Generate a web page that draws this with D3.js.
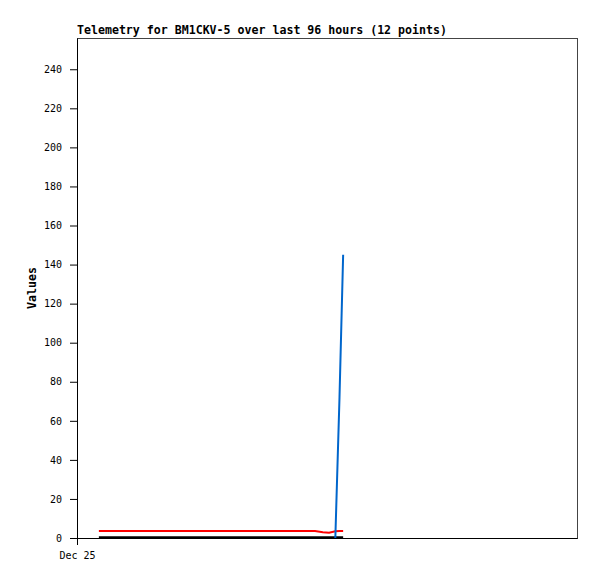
<!DOCTYPE html>
<html>
<head>
  <meta charset="utf-8">
  <title>Telemetry</title>
  <style>
    body { margin: 0; background: #fff; }
    text { font-family: "DejaVu Sans Mono", monospace; }
    .axis text { font-size: 10px; fill: #000; }
    .axis path, .axis line { stroke: #000; }
    .title { font-size: 11.6px; font-weight: bold; }
    .ylabel { font-size: 11.6px; font-weight: bold; }
  </style>
</head>
<body>
  <script src="https://d3js.org/d3.v7.min.js"></script>
  <svg width="597" height="579"></svg>
  <script>
    // hours after Dec 25 00:00 for the 12 telemetry points
    var hours = [4.2, 11, 18, 25, 32, 39, 45.7, 47.2, 48.4, 49.6, 50.4, 51.1];
    var redValues = [3.6, 3.6, 3.6, 3.6, 3.6, 3.6, 3.6, 3.0, 2.7, 3.4, 3.6, 3.6];
    var blackValues = [0.4, 0.4, 0.4, 0.4, 0.4, 0.4, 0.4, 0.4, 0.4, 0.4, 0.4, 0.4];
    var blueValues = [null, null, null, null, null, null, null, null, null, 0, 72, 145];
    var yTicks = [0, 20, 40, 60, 80, 100, 120, 140, 160, 180, 200, 220, 240];

    var svg = d3.select("svg");
    var margin = {top: 38, right: 20, bottom: 41, left: 77};
    var width = 597 - margin.left - margin.right;
    var height = 579 - margin.top - margin.bottom;

    var start = new Date(2023, 11, 25, 0, 0);
    var end = d3.timeHour.offset(start, 96);
    var times = hours.map(function(h) { return new Date(start.getTime() + h * 3600000); });

    var x = d3.scaleTime().domain([start, end]).range([0, width]);
    var y = d3.scaleLinear().domain([0, 256]).range([height, 0]);

    var g = svg.append("g")
        .attr("transform", "translate(" + margin.left + "," + margin.top + ")");

    // frame
    g.append("rect")
        .attr("x", 0.5).attr("y", 0.5)
        .attr("width", width).attr("height", height)
        .attr("fill", "none")
        .attr("stroke", "#444");

    function series(values, color) {
      var line = d3.line()
          .defined(function(d) { return d != null; })
          .x(function(d, i) { return x(times[i]); })
          .y(function(d) { return y(d); });
      g.append("path")
          .datum(values)
          .attr("fill", "none")
          .attr("stroke", color)
          .attr("stroke-width", 2)
          .attr("d", line);
    }

    series(blackValues, "#000");
    series(redValues, "#ff0000");
    series(blueValues, "#0066cc");

    g.append("g")
        .attr("class", "axis")
        .attr("transform", "translate(0," + height + ")")
        .call(d3.axisBottom(x)
            .tickValues([start])
            .tickFormat(d3.timeFormat("%b %d"))
            .tickSize(7)
            .tickSizeOuter(0)
            .tickPadding(7));

    g.append("g")
        .attr("class", "axis")
        .call(d3.axisLeft(y)
            .tickValues(yTicks)
            .tickSize(7)
            .tickSizeOuter(0)
            .tickPadding(8));

    svg.append("text")
        .attr("class", "title")
        .attr("x", margin.left)
        .attr("y", 34)
        .text("Telemetry for BM1CKV-5 over last 96 hours (12 points)");

    svg.append("text")
        .attr("class", "ylabel")
        .attr("transform", "translate(36," + (margin.top + height / 2) + ") rotate(-90)")
        .attr("text-anchor", "middle")
        .text("Values");
  </script>
</body>
</html>
